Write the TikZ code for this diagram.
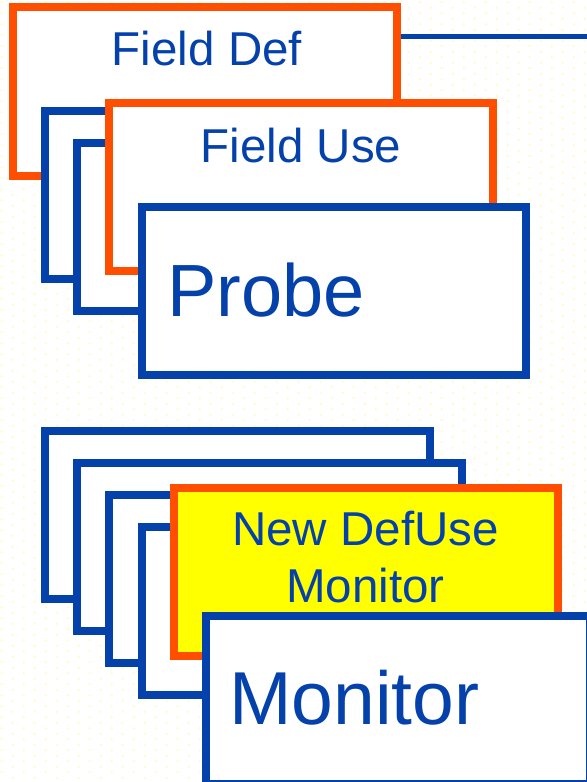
\documentclass[tikz,border=0pt]{standalone}
\usepackage{fontspec}
\setmainfont{Liberation Sans}
\definecolor{boxblue}{RGB}{4,65,170}
\definecolor{boxorange}{RGB}{255,78,0}
\definecolor{hiyellow}{RGB}{255,255,0}
\definecolor{dotyellow}{RGB}{255,251,205}
\tikzset{
  card/.style={rectangle, draw=boxblue, fill=white, line width=8bp, inner sep=0pt,
    minimum width=384bp, minimum height=168bp},
  hotcard/.style={card, draw=boxorange},
  label text/.style={inner sep=0pt, text=boxblue, font=\fontsize{47.5bp}{57bp}\selectfont},
  big text/.style={inner sep=0pt, text=boxblue, font=\fontsize{74bp}{80bp}\selectfont},
  link/.style={draw=boxblue, line width=5bp}
}
\begin{document}
\begin{tikzpicture}[x=1bp, y=-1bp]
  \useasboundingbox (0,0) rectangle (587,782);
  \clip (0,0) rectangle (587,782);
  % page background with staggered pale dots
  \fill[white] (0,0) rectangle (587,782);
  \foreach \j in {0,...,142} {
    \pgfmathsetmacro{\rowy}{2.3+5.5*\j}
    \pgfmathsetmacro{\rowx}{ifthenelse(mod(\j,2)==0,1.7,12.7)}
    \foreach \i in {0,...,26} {
      \fill[dotyellow] (\rowx+22*\i,\rowy) circle (1.35bp);
    }
  }

  % upper stack: field definition / use probes
  \node[hotcard] (fielddef) at (205,91.5) {};
  \node[label text, anchor=base] (fielddeftxt) at (207,66) {Field Def};
  \coordinate (linkend) at (587,36.5);
  \draw[link] (fielddef.east |- linkend) -- (linkend);
  \node[card] (probeA) at (237.5,195) {};
  \node[card] (probeB) at (269.5,227) {};
  \node[hotcard] (fielduse) at (301,187) {};
  \node[label text, anchor=base] (fieldusetxt) at (301,162) {Field Use};
  \node[card] (probe) at (333.75,291) {};
  \node[big text, anchor=base west] (probetxt) at (167,316) {Probe};

  % lower stack: monitors
  \node[card] (monA) at (237.5,515) {};
  \node[card] (monB) at (269.5,547) {};
  \node[card] (monC) at (301.5,579) {};
  \node[card] (monD) at (334,611) {};
  \node[hotcard, fill=hiyellow] (defuse) at (365.5,571.5) {};
  \node[label text, align=center, anchor=center] (defusetxt) at (365.5,557) {New DefUse\\Monitor};
  \node[card] (monitor) at (398,700) {};
  \node[big text, font=\fontsize{75bp}{80bp}\selectfont, anchor=base west] (monitortxt) at (229,724) {Monitor};
\end{tikzpicture}
\end{document}
